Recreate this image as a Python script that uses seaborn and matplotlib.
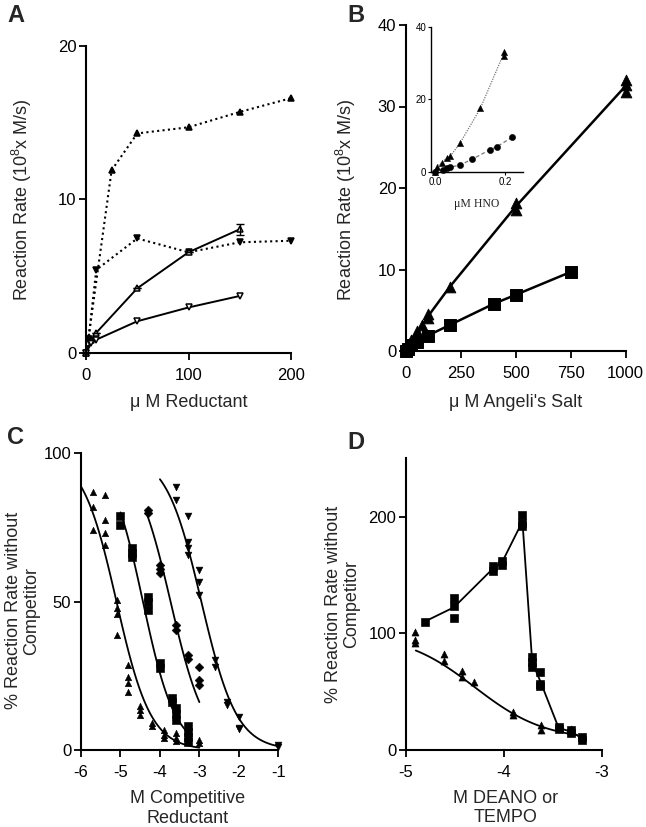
import numpy as np
import pandas as pd
import matplotlib
matplotlib.use("Agg")
import matplotlib.pyplot as plt
import seaborn as sns

# panel A - rate vs reductant (uM)
a_x_tri_dot = [0, 2.5, 25, 50, 100, 150, 200]
a_y_tri_dot = [0, 1.0, 11.9, 14.3, 14.7, 15.7, 16.6]
a_x_inv_dot = [0, 2.5, 10, 50, 100, 150, 200]
a_y_inv_dot = [0, 0.9, 5.4, 7.45, 6.55, 7.2, 7.3]
a_x_tri_open = [0, 5, 10, 50, 100, 150]
a_y_tri_open = [0, 0.8, 1.3, 4.2, 6.55, 8.05]
a_err_tri_open = [0, 0, 0, 0, 0, 0.35]
a_x_inv_open = [0, 5, 10, 50, 100, 150]
a_y_inv_open = [0, 0.6, 0.85, 2.05, 2.95, 3.7]

# panel B - rate vs Angeli's salt (uM), replicates
b_x_tri = [0, 0, 10, 25, 50, 50, 75, 100, 100, 200, 500, 500, 1000, 1000, 1000]
b_y_tri = [0, 0.2, 0.6, 1.3, 2.5, 2.2, 3.2, 4.5, 4.0, 7.9, 18.2, 17.3, 33.2, 32.6, 31.8]
b_x_sq = [0, 10, 25, 50, 100, 200, 400, 500, 750]
b_y_sq = [0, 0.3, 0.7, 1.1, 1.9, 3.2, 5.8, 6.9, 9.7]

# inset - rate vs HNO (uM)
in_x_tri = [0, 0.005, 0.019, 0.033, 0.043, 0.071, 0.129, 0.195, 0.195]
in_y_tri = [0, 1.2, 2.5, 3.7, 4.2, 7.8, 17.5, 32.0, 33.0]
in_x_circ = [0, 0.023, 0.033, 0.043, 0.071, 0.105, 0.155, 0.176, 0.219]
in_y_circ = [0, 0.6, 0.9, 1.2, 1.85, 3.4, 6.0, 6.9, 9.5]

# panel C - competition, log M competitive reductant
c_x_tri = [-5.7, -5.7, -5.7, -5.4, -5.4, -5.4, -5.4, -5.1, -5.1, -5.1, -5.1,
           -4.8, -4.8, -4.8, -4.8, -4.5, -4.5, -4.5, -4.2, -4.2,
           -3.9, -3.9, -3.9, -3.6, -3.6, -3.6, -3.0, -3.0]
c_y_tri = [87, 82, 74, 86, 77.5, 73, 69, 50.5, 48, 46, 38.8,
           28.6, 24.7, 22.5, 19.7, 14.8, 13.5, 11.8, 9, 8,
           6.7, 5, 4, 5.6, 4, 3, 3.4, 2.2]
c_x_sq = [-5.0, -5.0, -4.7, -4.7, -4.7, -4.3, -4.3, -4.3, -4.0, -4.0, -3.7, -3.7,
          -3.6, -3.6, -3.6, -3.3, -3.3, -3.3, -3.3]
c_y_sq = [79, 76, 68, 66.3, 65, 51.7, 50, 47.2, 29.2, 27.5, 17.5, 16.3,
          14, 12.3, 10, 8, 6.2, 4.5, 2.8]
c_x_dia = [-4.3, -4.3, -4.0, -4.0, -4.0, -3.6, -3.6, -3.3, -3.3, -3.0, -3.0, -3.0]
c_y_dia = [80.9, 80, 62.4, 61, 59.6, 42, 40.4, 32, 30.6, 28, 23.6, 22]
c_x_inv = [-3.6, -3.6, -3.3, -3.3, -3.3, -3.3, -3.0, -3.0, -3.0,
           -2.6, -2.6, -2.3, -2.3, -2.0, -2.0, -2.0, -1.0, -1.0]
c_y_inv = [88.5, 84.3, 79, 70.2, 68, 65.7, 60.7, 56.5, 52.2,
           30.3, 28, 16.3, 15, 11.2, 7.3, 7, 1.7, 1]
# sigmoid fits: logEC50, hill slope, x range
c_fit_ec50 = [-5.1, -4.43, -3.73, -2.95]
c_fit_hill = [1.0, 1.06, 0.98, 0.97]
c_fit_start = [-6.0, -5.0, -4.34, -4.0]
c_fit_end = [-3.0, -3.25, -3.0, -1.0]

# panel D - log M DEANO or TEMPO
d_x_sq = [-4.81, -4.51, -4.51, -4.51, -4.11, -4.11, -4.02, -4.02,
          -3.81, -3.81, -3.81, -3.71, -3.71, -3.71, -3.63, -3.63, -3.63,
          -3.44, -3.44, -3.31, -3.31, -3.2, -3.2]
d_y_sq = [110, 130, 123.4, 113.5, 157.4, 153.8, 162.3, 158.9,
          201.4, 194.3, 192, 79.4, 75.2, 70.9, 66.7, 56.7, 55,
          19.9, 18, 17, 14.2, 11.3, 8.5]
d_x_tri = [-4.91, -4.91, -4.91, -4.61, -4.61, -4.43, -4.43, -4.31,
           -3.91, -3.91, -3.62, -3.62, -3.31, -3.31]
d_y_tri = [101.5, 94.2, 92, 82.3, 76.6, 68, 62.4, 58,
           32.6, 29.8, 21.3, 17, 18.4, 15]
d_fit_top, d_fit_bottom, d_fit_ec50, d_fit_hill = 100, 8, -4.3, 1.2
d_fit_start, d_fit_end = -4.9, -3.25

sns.set_theme(style="ticks")
plt.rcParams["font.family"] = ["Liberation Sans", "DejaVu Sans"]
plt.rcParams["mathtext.default"] = "regular"
plt.rcParams["axes.linewidth"] = 1.5
plt.rcParams["axes.unicode_minus"] = False

W, H = 646, 827
fig = plt.figure(figsize=(W / 100, H / 100), dpi=100)


def box(left, top, right, bottom):
    return [left / W, 1 - bottom / H, (right - left) / W, (bottom - top) / H]


def style(ax, size=12, length=5):
    sns.despine(ax=ax)
    ax.tick_params(direction="out", length=length, width=1.3, labelsize=size,
                   colors="black", pad=2)
    ax.tick_params(axis="x", pad=6)
    for s in ["left", "bottom"]:
        ax.spines[s].set_color("black")


def sigmoid(x, ec50, hill, top=100, bottom=0):
    return bottom + (top - bottom) / (1 + 10 ** ((x - ec50) * hill))


dot = (0, (1, 1.6))

# ---- A
axA = fig.add_axes(box(86, 46, 291, 352.7))
common = dict(ax=axA, color="black", markeredgecolor="black", clip_on=False,
              errorbar=None, markersize=5, markeredgewidth=1.1)
sns.lineplot(x=a_x_tri_dot, y=a_y_tri_dot, linestyle=dot, linewidth=1.5,
             marker="^", markerfacecolor="black", **common)
sns.lineplot(x=a_x_inv_dot, y=a_y_inv_dot, linestyle=dot, linewidth=1.5,
             marker="v", markerfacecolor="black", **common)
sns.lineplot(x=a_x_tri_open, y=a_y_tri_open, linestyle="-", linewidth=1.4,
             marker="^", markerfacecolor="white", **common)
sns.lineplot(x=a_x_inv_open, y=a_y_inv_open, linestyle="-", linewidth=1.4,
             marker="v", markerfacecolor="white", **common)
axA.errorbar(a_x_tri_open, a_y_tri_open, yerr=a_err_tri_open, fmt="none",
             ecolor="black", capsize=3, elinewidth=1, clip_on=False)
axA.set_xlim(0, 200)
axA.set_ylim(0, 20)
axA.set_xticks([0, 100, 200])
axA.set_yticks([0, 10, 20])
style(axA)
axA.set_ylabel("Reaction Rate (10$^8$x M/s)", fontsize=13)
axA.set_xlabel("\u03bc M Reductant", fontsize=13)
axA.yaxis.set_label_coords(-0.254, 0.5)
axA.xaxis.set_label_coords(0.5, -0.135)

# ---- B
axB = fig.add_axes(box(406, 25, 625.7, 351))
sns.lineplot(x=b_x_tri, y=b_y_tri, ax=axB, color="black", linewidth=1.8,
             errorbar=None)
sns.lineplot(x=b_x_sq, y=b_y_sq, ax=axB, color="black", linewidth=1.8,
             errorbar=None)
sns.scatterplot(x=b_x_tri, y=b_y_tri, ax=axB, marker="^", s=60, color="black",
                edgecolor="black", clip_on=False, zorder=3)
sns.scatterplot(x=b_x_sq, y=b_y_sq, ax=axB, marker="s", s=75, color="black",
                edgecolor="black", clip_on=False, zorder=3)
axB.set_xlim(0, 1000)
axB.set_ylim(0, 40)
axB.set_xticks([0, 250, 500, 750, 1000])
axB.set_yticks([0, 10, 20, 30, 40])
style(axB)
axB.set_ylabel("Reaction Rate (10$^8$x M/s)", fontsize=13)
axB.set_xlabel("\u03bc M Angeli's Salt", fontsize=13)
axB.yaxis.set_label_coords(-0.218, 0.463)
axB.xaxis.set_label_coords(0.5, -0.133)

# inset
axI = fig.add_axes(box(431, 26.7, 523, 171.7))
axI.patch.set_alpha(0)
sns.lineplot(x=in_x_tri, y=in_y_tri, ax=axI, color="#777777", linewidth=0.9,
             linestyle=(0, (1, 1)), errorbar=None)
sns.lineplot(x=in_x_circ, y=in_y_circ, ax=axI, color="#777777", linewidth=0.9,
             linestyle=(0, (3, 2)), errorbar=None)
sns.scatterplot(x=in_x_tri, y=in_y_tri, ax=axI, marker="^", s=20, color="black",
                edgecolor="black", clip_on=False, zorder=3)
sns.scatterplot(x=in_x_circ, y=in_y_circ, ax=axI, marker="o", s=20, color="black",
                edgecolor="black", clip_on=False, zorder=3)
axI.set_xlim(-0.011, 0.25)
axI.set_ylim(0, 40)
axI.set_xticks([0.0, 0.2])
axI.set_xticklabels(["0.0", "0.2"])
axI.set_yticks([0, 20, 40])
style(axI, size=7, length=2.5)
for s in ["left", "bottom"]:
    axI.spines[s].set_linewidth(1.0)
axI.tick_params(width=0.8, pad=1)
axI.set_xlabel("\u03bcM HNO", fontsize=8.5, family=["Liberation Serif", "DejaVu Serif"])
axI.set_ylabel("")
axI.xaxis.set_label_coords(0.5, -0.18)

# ---- C
axC = fig.add_axes(box(81, 453.3, 278.3, 750))
markers_c = ["^", "s", "D", "v"]
sizes_c = [22, 30, 20, 24]
xs_c = [c_x_tri, c_x_sq, c_x_dia, c_x_inv]
ys_c = [c_y_tri, c_y_sq, c_y_dia, c_y_inv]
for i in range(4):
    sns.scatterplot(x=xs_c[i], y=ys_c[i], ax=axC, marker=markers_c[i], s=sizes_c[i],
                    color="black", edgecolor="black", clip_on=False, zorder=3)
    xf = np.linspace(c_fit_start[i], c_fit_end[i], 120)
    sns.lineplot(x=xf, y=sigmoid(xf, c_fit_ec50[i], c_fit_hill[i]), ax=axC,
                 color="black", linewidth=1.3, clip_on=False)
axC.set_xlim(-6, -1)
axC.set_ylim(0, 100)
axC.set_xticks([-6, -5, -4, -3, -2, -1])
axC.set_yticks([0, 50, 100])
style(axC)
axC.set_ylabel("% Reaction Rate without\nCompetitor", fontsize=13, linespacing=1.1)
axC.set_xlabel("M Competitive\nReductant", fontsize=13, linespacing=1.2)
axC.yaxis.set_label_coords(-0.208, 0.47)
axC.xaxis.set_label_coords(0.54, -0.135)

# ---- D
axD = fig.add_axes(box(406, 458.3, 601.7, 750))
sns.lineplot(x=d_x_sq, y=d_y_sq, ax=axD, color="black", linewidth=1.3,
             errorbar=None)
sns.scatterplot(x=d_x_sq, y=d_y_sq, ax=axD, marker="s", s=34, color="black",
                edgecolor="black", clip_on=False, zorder=3)
sns.scatterplot(x=d_x_tri, y=d_y_tri, ax=axD, marker="^", s=26, color="black",
                edgecolor="black", clip_on=False, zorder=3)
xd = np.linspace(d_fit_start, d_fit_end, 120)
sns.lineplot(x=xd, y=sigmoid(xd, d_fit_ec50, d_fit_hill, d_fit_top, d_fit_bottom),
             ax=axD, color="black", linewidth=1.3)
axD.set_xlim(-5, -3)
axD.set_ylim(0, 250)
axD.set_xticks([-5, -4, -3])
axD.set_yticks([0, 100, 200])
style(axD)
axD.set_ylabel("% Reaction Rate without\nCompetitor", fontsize=13, linespacing=1.1)
axD.set_xlabel("M DEANO or\nTEMPO", fontsize=13, linespacing=1.2)
axD.yaxis.set_label_coords(-0.235, 0.5)
axD.xaxis.set_label_coords(0.51, -0.136)

# panel letters
for letter, (px, py) in zip("ABCD", [(7, 4), (347, 4), (7, 426), (347, 431)]):
    fig.text(px / W, 1 - py / H, letter, fontsize=17, fontweight="bold",
             ha="left", va="top")

fig.savefig("out.png", dpi=100)
